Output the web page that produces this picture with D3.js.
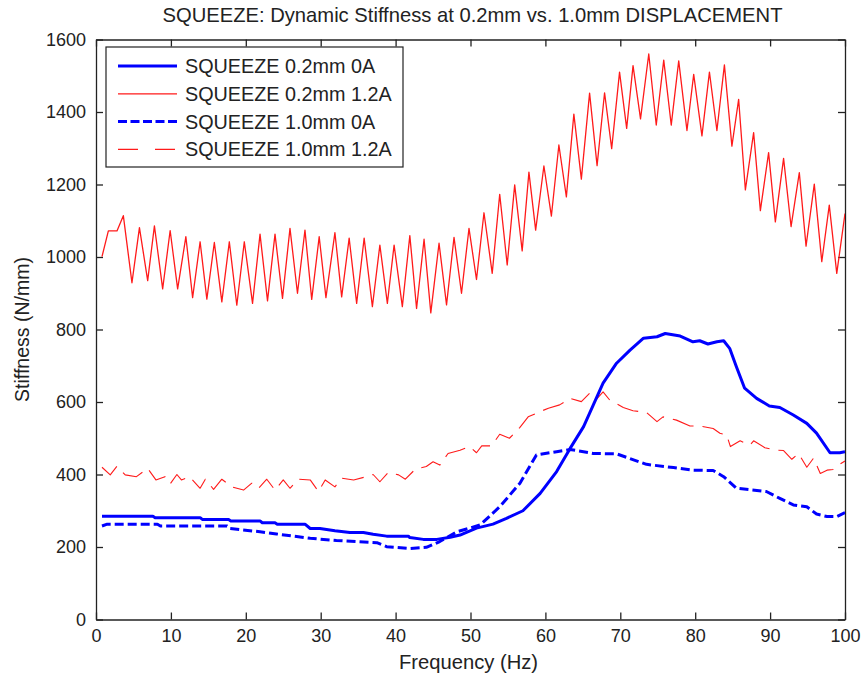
<!DOCTYPE html>
<html><head><meta charset="utf-8">
<script src="https://cdn.jsdelivr.net/npm/d3@7"></script>
<style>
html,body{margin:0;padding:0;background:#fff;}
svg text{font-family:"Liberation Sans",Arial,Helvetica,sans-serif;fill:#222;}
</style></head>
<body><svg id="chart" width="862" height="677"></svg>
<script>
// ---- data ----
const title = "SQUEEZE: Dynamic Stiffness at 0.2mm vs. 1.0mm DISPLACEMENT";
const xLabel = "Frequency (Hz)";
const yLabel = "Stiffness (N/mm)";
const xTicks = [0,10,20,30,40,50,60,70,80,90,100];
const yTicks = [0,200,400,600,800,1000,1200,1400,1600];
const seriesNames = ["SQUEEZE 0.2mm 0A","SQUEEZE 0.2mm 1.2A","SQUEEZE 1.0mm 0A","SQUEEZE 1.0mm 1.2A"];

// SQUEEZE 0.2mm 0A
const f02_0A = [0.8,7.6,7.9,13.9,14.2,17.7,18,21.9,22.2,23.9,24.2,27.9,28.6,29.9,31.9,33.9,35.7,37,38.8,41.7,41.9,43.7,45.5,47.3,48.6,50.8,53,54.8,57,59.3,61.5,63.3,65.1,66.4,67.7,69.5,71.3,73.1,74.9,76,78,79.7,80.6,81.7,82.9,83.8,84.6,85.5,86.6,88.2,89.9,91.3,93.1,94.9,96.2,98,99.3,100];
const v02_0A = [285,285,281,281,276,276,272,272,267,267,263,263,251,251,245,240,240,235,230,230,226,221,221,227,233,252,263,279,300,348,408,472,532,592,652,707,743,776,780,789,782,766,769,760,766,769,748,697,638,610,589,585,564,541,514,460,460,463];

// SQUEEZE 0.2mm 1.2A
const f02_12A = [0.8,1.65,2.8,3.65,4.8,5.8,6.9,7.8,8.9,9.9,10.9,12,12.9,13.9,14.8,15.8,16.8,17.8,18.8,19.8,20.9,21.9,22.9,23.9,24.9,25.9,26.9,27.9,28.8,29.8,30.7,31.9,32.8,33.8,34.8,35.8,36.9,37.9,38.9,39.8,40.9,41.9,42.8,43.8,44.7,45.8,46.8,47.8,48.8,49.8,50.8,51.8,52.9,53.9,54.9,55.9,56.9,57.8,58.7,59.8,60.8,61.8,62.8,63.8,64.8,65.9,66.9,67.9,68.85,69.9,70.85,71.7,72.7,73.8,74.8,75.8,76.8,77.8,78.9,79.8,80.9,81.9,82.9,83.9,84.9,85.8,86.7,87.8,88.7,89.8,90.7,91.8,92.8,93.9,94.8,95.9,96.9,97.9,98.9,100];
const v02_12A = [1001,1072,1072,1114,929,1081,935,1086,912,1073,912,1056,888,1042,884,1040,876,1042,867,1042,872,1063,879,1063,886,1079,900,1074,883,1056,888,1067,890,1052,872,1052,863,1033,872,1033,863,1059,858,1049,846,1038,868,1054,900,1079,938,1122,955,1173,978,1199,1017,1234,1074,1251,1113,1309,1166,1394,1215,1452,1252,1453,1299,1510,1355,1528,1381,1560,1364,1543,1364,1541,1349,1504,1334,1510,1349,1530,1306,1435,1185,1343,1128,1288,1097,1272,1084,1233,1030,1201,987,1143,955,1120];

// SQUEEZE 1.0mm 0A
const f10_0A = [0.8,1.5,8.2,8.6,13.9,17.5,17.9,21.9,24.1,28.6,32.1,37.5,38.8,41.9,44.1,45.9,48.2,49.9,51.3,53.9,56.6,58.8,61.5,63.3,66.4,69.5,73.5,77.1,79.7,82.4,83.8,85.5,89.5,91.3,93.1,94.9,96.2,97.6,98.9,100];
const v10_0A = [258,263,263,258,258,258,251,242,236,224,218,212,201,196,199,215,242,252,261,311,376,454,463,469,458,457,428,419,412,411,394,362,353,334,316,311,291,284,284,295];

// SQUEEZE 1.0mm 1.2A
const f10_12A = [0.8,1.9,2.8,3.9,5.4,6.9,8,9.2,9.9,10.8,11.4,12.5,13.9,14.6,15.7,16.8,18.1,19.7,20.8,21.7,22.8,23.9,25,25.9,27,28.6,29.7,30.6,31.9,32.8,34.4,36.1,37,37.9,39,40.4,41.3,42.6,44.1,45,45.9,47,48.6,49.9,50.8,51.5,52.8,53.9,55.2,56.6,57.7,58.8,60.4,61.9,63.3,64.8,66,66.8,67.7,68.6,70.4,71.7,73.5,74.9,75.7,77.5,79.3,80.6,82.4,83.3,84.2,84.7,86,87.3,87.8,89.3,90.9,91.8,92.9,93.8,94.9,95.8,96.7,97.6,98.4,99.1,100];
const v10_12A = [420,399,423,399,394,417,385,394,374,400,385,394,362,387,359,387,366,357,376,362,387,357,385,362,387,385,353,385,366,390,385,394,400,380,405,399,387,414,422,435,426,458,467,477,460,479,479,511,500,530,559,569,583,592,610,601,626,607,628,605,585,576,571,546,559,550,534,534,527,514,509,477,493,481,493,474,467,466,442,458,420,445,403,412,414,426,437];

// ---- layout ----
const svg = d3.select("#chart");
const L = 96, R = 845, T = 39.5, B = 619.5;
const x = d3.scaleLinear().domain([0,100]).range([L,R]);
const y = d3.scaleLinear().domain([0,1600]).range([B,T]);

svg.append("defs").append("clipPath").attr("id","clip")
  .append("rect").attr("x",L).attr("y",T).attr("width",R-L).attr("height",B-T);

// axes (ticks inward, mirrored)
const tickLen = 7;
const axisColor = "#222";
const fmt = d3.format("d");
const gB = svg.append("g").attr("transform",`translate(0,${B})`)
  .call(d3.axisBottom(x).tickValues(xTicks).tickFormat(fmt).tickSizeInner(-tickLen).tickSizeOuter(0).tickPadding(10));
const gT = svg.append("g").attr("transform",`translate(0,${T})`)
  .call(d3.axisTop(x).tickValues(xTicks).tickSizeInner(-tickLen).tickSizeOuter(0).tickFormat(""));
const gL = svg.append("g").attr("transform",`translate(${L},0)`)
  .call(d3.axisLeft(y).tickValues(yTicks).tickFormat(fmt).tickSizeInner(-tickLen).tickSizeOuter(0).tickPadding(10));
const gR = svg.append("g").attr("transform",`translate(${R},0)`)
  .call(d3.axisRight(y).tickValues(yTicks).tickSizeInner(-tickLen).tickSizeOuter(0).tickFormat(""));
[gB,gT,gL,gR].forEach(g=>{
  g.selectAll("path").attr("stroke",axisColor).attr("stroke-width",1.3);
  g.selectAll("line").attr("stroke",axisColor).attr("stroke-width",1.3);
  g.selectAll("text").attr("font-size",18).attr("fill","#222")
   .style("font-family","'Liberation Sans',Arial,sans-serif");
});
gB.selectAll("text").attr("dy","0.71em");

// titles
svg.append("text").attr("x",(L+R)/2+2).attr("y",22).attr("text-anchor","middle")
  .attr("font-size",20.2).text(title);
svg.append("text").attr("x",(L+R)/2-2).attr("y",669).attr("text-anchor","middle")
  .attr("font-size",20.2).text(xLabel);
svg.append("text").attr("transform",`translate(29,${(T+B)/2}) rotate(-90)`).attr("text-anchor","middle")
  .attr("font-size",19.5).text(yLabel);

// lines
const styles = [
  {f:f02_0A, v:v02_0A, color:"#0000ff", w:3, dash:null, ldash:null},
  {f:f02_12A, v:v02_12A, color:"#ff1a1a", w:1.3, dash:null, ldash:null},
  {f:f10_0A, v:v10_0A, color:"#0000ff", w:3, dash:"9,4", ldash:"9,3.5"},
  {f:f10_12A, v:v10_12A, color:"#ff1a1a", w:1.1, dash:"22,9", ldash:"20,17"}
];
const line = d3.line().x(d=>x(d[0])).y(d=>y(d[1]));
const plot = svg.append("g").attr("clip-path","url(#clip)");
// draw order: red solid, red dashed, blue dashed, blue solid
[1,3,2,0].forEach(i=>{
  const s = styles[i];
  const pts = s.f.map((f,k)=>[f,s.v[k]]);
  plot.append("path").datum(pts).attr("d",line)
    .attr("fill","none").attr("stroke",s.color).attr("stroke-width",s.w)
    .attr("stroke-linejoin","round")
    .attr("stroke-dasharray",s.dash);
});

// legend
const lg = svg.append("g");
lg.append("rect").attr("x",106).attr("y",47).attr("width",297).attr("height",120)
  .attr("fill","#fff").attr("stroke","#222").attr("stroke-width",1.2);
seriesNames.forEach((name,i)=>{
  const s = styles[i];
  const yy = 66 + i*27.8;
  lg.append("line").attr("x1",118).attr("x2",177).attr("y1",yy).attr("y2",yy)
    .attr("stroke",s.color).attr("stroke-width",s.w).attr("stroke-dasharray",s.ldash);
  lg.append("text").attr("x",185).attr("y",yy+7).attr("font-size",19.8).text(name);
});
</script></body></html>
